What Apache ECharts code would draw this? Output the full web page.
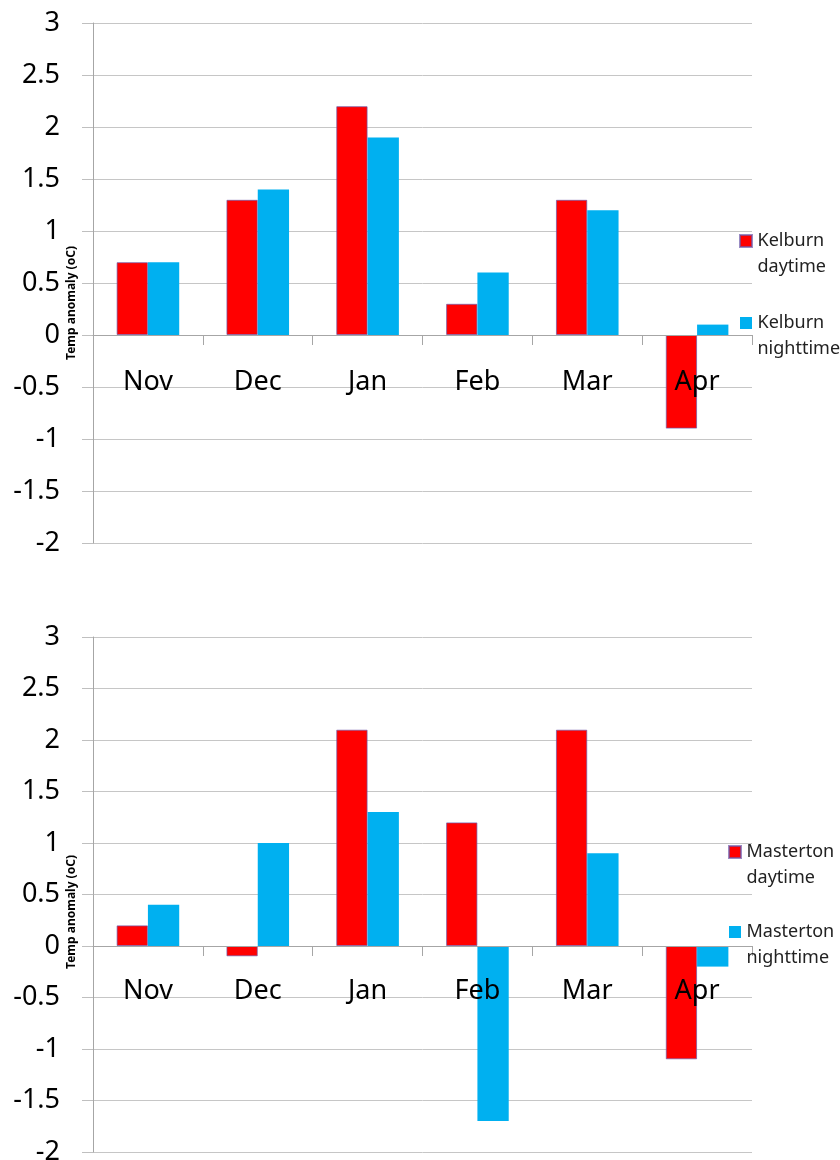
<!DOCTYPE html>
<html>
<head>
<meta charset="utf-8">
<script src="https://cdn.jsdelivr.net/npm/echarts@6/dist/echarts.min.js"></script>
<style>
  html, body { margin: 0; padding: 0; background: #fff; }
  #chart { width: 840px; height: 1160px; }
</style>
</head>
<body>
<div id="chart"></div>
<script>
const months = ['Nov', 'Dec', 'Jan', 'Feb', 'Mar', 'Apr']
const kelburnDay = [0.7, 1.3, 2.2, 0.3, 1.3, -0.9]
const kelburnNight = [0.7, 1.4, 1.9, 0.6, 1.2, 0.1]
const mastertonDay = [0.2, -0.1, 2.1, 1.2, 2.1, -1.1]
const mastertonNight = [0.4, 1.0, 1.3, -1.7, 0.9, -0.2]
const yTicks = { min: -2, max: 3, interval: 0.5 }
const yName = 'Temp anomaly (oC)'

const RED = '#ff0000'
const BLUE = '#00b0f0'
const font = '"Noto Sans", "Open Sans", sans-serif'

const grids = [
  { left: 93, right: 88, top: 23, height: 520, outerBoundsMode: 'none' },
  { left: 93, right: 88, top: 637, height: 515, outerBoundsMode: 'none' }
]

const chart = echarts.init(document.getElementById('chart'))

// square at the top of a taller box, so the icon lines up with the first text line
const legendIcon = 'path://M0,0H12V12H0ZM12,38'

// the category axis (line, ticks and labels) sits on the zero line, as in the original
const makeX = (gridIndex) => ({
  type: 'category',
  gridIndex,
  data: months,
  z: 3,
  offset: -grids[gridIndex].height * (0 - yTicks.min) / (yTicks.max - yTicks.min),
  axisLine: { onZero: false, lineStyle: { color: '#a6a6a6', width: 1 } },
  axisTick: { show: true, interval: 0, length: 10, lineStyle: { color: '#a6a6a6' } },
  axisLabel: { interval: 0, margin: gridIndex === 0 ? 34 : 32, fontSize: 27, color: '#000', fontFamily: font }
})

const makeY = (gridIndex) => ({
  type: 'value',
  gridIndex,
  min: yTicks.min,
  max: yTicks.max,
  interval: yTicks.interval,
  axisLine: { show: true, lineStyle: { color: '#a6a6a6' } },
  axisTick: { show: true, length: 11, lineStyle: { color: '#bfbfbf' } },
  splitLine: { show: true, lineStyle: { color: '#c6c6c6', width: 1 } },
  axisLabel: { margin: 33, fontSize: 27, color: '#000', fontFamily: font }
})

const makeLegend = (names, left, top, gap) => ({
  data: names,
  orient: 'vertical',
  left,
  top,
  itemWidth: 13,
  itemHeight: 38,
  itemGap: gap,
  icon: legendIcon,
  formatter: (n) => n.replace(' ', '\n'),
  textStyle: { fontSize: 18, lineHeight: 26, color: '#222', fontFamily: font }
})

const makeName = (y) => ({
  type: 'text', x: 72, y, rotation: Math.PI / 2,
  style: { text: yName, fontSize: 12, fontWeight: 'bold', fontFamily: font, fill: '#000', align: 'center', verticalAlign: 'middle' }
})

const barBase = {
  type: 'bar',
  barGap: '0%',
  barCategoryGap: '43%'
}
const redStyle = { color: RED, borderColor: 'rgba(110,90,170,0.7)', borderWidth: 1 }
const blueStyle = { color: BLUE }

const option = {
  animation: false,
  backgroundColor: '#fff',
  grid: grids,
  xAxis: [makeX(0), makeX(1)],
  yAxis: [makeY(0), makeY(1)],
  legend: [
    makeLegend(['Kelburn daytime', 'Kelburn nighttime'], 734, 223, 30),
    makeLegend(['Masterton daytime', 'Masterton nighttime'], 723, 834, 28)
  ],
  graphic: [makeName(303), makeName(912)],
  series: [
    { ...barBase, name: 'Kelburn daytime', xAxisIndex: 0, yAxisIndex: 0, data: kelburnDay, itemStyle: redStyle },
    { ...barBase, name: 'Kelburn nighttime', xAxisIndex: 0, yAxisIndex: 0, data: kelburnNight, itemStyle: blueStyle },
    { ...barBase, name: 'Masterton daytime', xAxisIndex: 1, yAxisIndex: 1, data: mastertonDay, itemStyle: redStyle },
    { ...barBase, name: 'Masterton nighttime', xAxisIndex: 1, yAxisIndex: 1, data: mastertonNight, itemStyle: blueStyle }
  ]
}

chart.setOption(option)
</script>
</body>
</html>
